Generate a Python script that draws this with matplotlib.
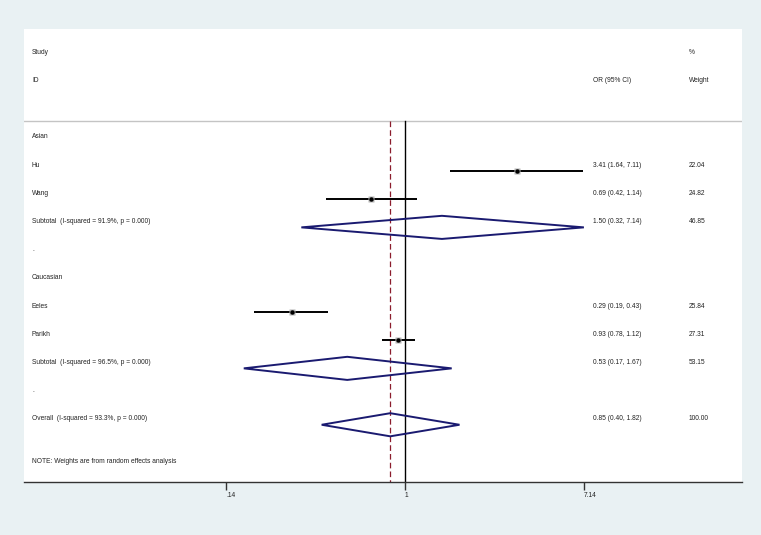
import matplotlib
matplotlib.use('Agg')
import matplotlib.pyplot as plt
from matplotlib.patches import Polygon
import matplotlib.transforms as mtransforms

plt.rcParams['font.family'] = ['Liberation Sans', 'DejaVu Sans']

# ---- data ----
groups = ['Asian', 'Caucasian']
studies = ['Hu', 'Wang', 'Eeles', 'Parikh']
study_group = ['Asian', 'Asian', 'Caucasian', 'Caucasian']
or_est = [3.41, 0.69, 0.29, 0.93]
ci_low = [1.64, 0.42, 0.19, 0.78]
ci_high = [7.11, 1.14, 0.43, 1.12]
weights = [22.04, 24.82, 25.84, 27.31]
sub_labels = ['Subtotal  (I-squared = 91.9%, p = 0.000)',
              'Subtotal  (I-squared = 96.5%, p = 0.000)']
sub_or = [1.50, 0.53]
sub_low = [0.32, 0.17]
sub_high = [7.14, 1.67]
sub_w = [46.85, 53.15]
overall_label = 'Overall  (I-squared = 93.3%, p = 0.000)'
overall_or = 0.85
overall_low = 0.40
overall_high = 1.82
overall_w = 100.00
xticks = [0.14, 1, 7.14]
xticklabels = ['.14', '1', '7.14']
note = 'NOTE: Weights are from random effects analysis'

# ---- figure ----
W, H = 761, 535
fig = plt.figure(figsize=(W / 100, H / 100), dpi=100)
bg = '#e9f1f3'
fig.patch.set_facecolor(bg)
ax = fig.add_axes([24 / W, 1 - 482 / H, (742 - 24) / W, (482 - 29) / H])
ax.set_facecolor('white')
ax.set_xscale('log')
ax.set_xlim(0.01518, 40.6)
ax.set_ylim(12.03, -4.035)

fs = 4.8
tc = '#222222'
navy = '#1a1a70'
tlab = mtransforms.blended_transform_factory(ax.transAxes, ax.transData)
x_lab, x_or, x_w = 0.0111, 0.7925, 0.9257
toff = -0.21

def row_text(k, label, ortxt=None, wtxt=None):
    ax.text(x_lab, k + toff, label, transform=tlab, fontsize=fs, va='center', ha='left', color=tc)
    if ortxt is not None:
        ax.text(x_or, k + toff, ortxt, transform=tlab, fontsize=fs, va='center', ha='left', color=tc)
    if wtxt is not None:
        ax.text(x_w, k + toff, wtxt, transform=tlab, fontsize=fs, va='center', ha='left', color=tc)

# headers
row_text(-3, 'Study', None, '%')
row_text(-2, 'ID', 'OR (95% CI)', 'Weight')
ax.axhline(-0.77, color='#c4c4c4', lw=1.0)

def diamond(k, est, lo, hi):
    h = 0.41
    poly = Polygon([(lo, k), (est, k - h), (hi, k), (est, k + h)], closed=True,
                   fill=False, edgecolor=navy, lw=1.4, zorder=4)
    ax.add_patch(poly)

k = 0
for gi, g in enumerate(groups):
    row_text(k, g)
    k += 1
    for si, s in enumerate(studies):
        if study_group[si] != g:
            continue
        ax.plot([ci_low[si], ci_high[si]], [k, k], color='black', lw=1.4, zorder=3,
                solid_capstyle='butt')
        ax.plot([or_est[si]], [k], marker='s', color='#b4b4b4', ms=weights[si] ** 0.5 * 0.95,
                mec='none', zorder=4)
        ax.plot([or_est[si]], [k], marker='o', color='black', ms=3.2, mec='none', zorder=5)
        row_text(k, s, f'{or_est[si]:.2f} ({ci_low[si]:.2f}, {ci_high[si]:.2f})',
                 f'{weights[si]:.2f}')
        k += 1
    diamond(k, sub_or[gi], sub_low[gi], sub_high[gi])
    row_text(k, sub_labels[gi], f'{sub_or[gi]:.2f} ({sub_low[gi]:.2f}, {sub_high[gi]:.2f})',
             f'{sub_w[gi]:.2f}')
    k += 1
    row_text(k, '.')
    k += 1

diamond(k, overall_or, overall_low, overall_high)
row_text(k, overall_label, f'{overall_or:.2f} ({overall_low:.2f}, {overall_high:.2f})',
         f'{overall_w:.2f}')
ax.text(x_lab, 11.32, note, transform=tlab, fontsize=fs, va='center', ha='left', color=tc)

# reference lines
ax.plot([1, 1], [-0.77, 12.03], color='black', lw=1.0, zorder=2)
ax.plot([overall_or, overall_or], [-0.77, 12.03], color='#8b1c2c', lw=0.9,
        dashes=(4.5, 2.5), zorder=2)

# axes styling
for sp in ['top', 'right', 'left']:
    ax.spines[sp].set_visible(False)
ax.spines['bottom'].set_color('#333333')
ax.spines['bottom'].set_linewidth(1.0)
ax.set_yticks([])
ax.set_xticks(xticks)
ax.set_xticklabels(xticklabels)
ax.minorticks_off()
ax.tick_params(axis='x', direction='out', length=6, width=1.0, color='#333333',
               labelsize=fs, pad=1, labelcolor=tc)
for t in ax.get_xticklabels():
    t.set_ha('left')

fig.savefig('out.png', dpi=100, facecolor=bg)
